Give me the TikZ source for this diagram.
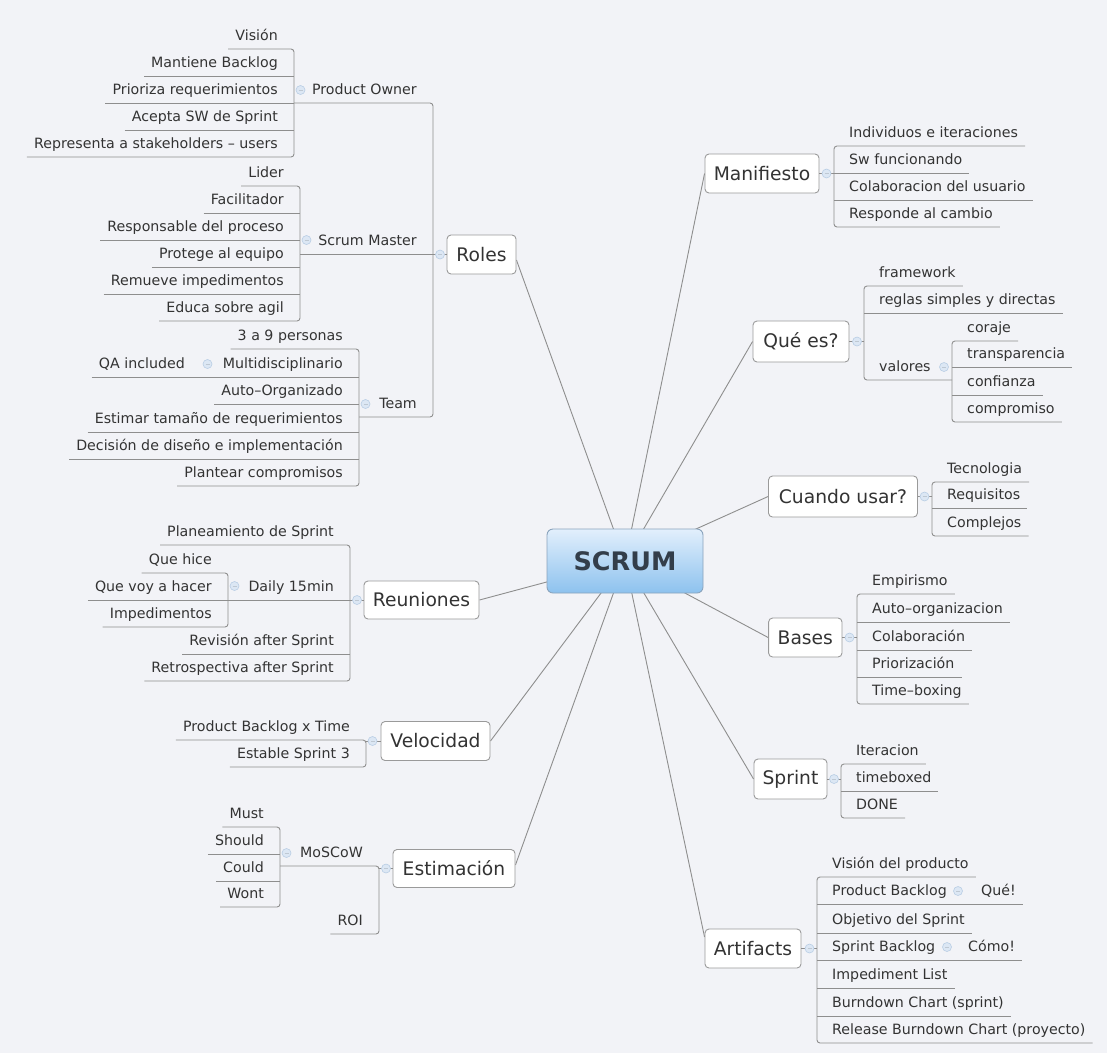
\documentclass[tikz,border=0pt]{standalone}
\usepackage{fontspec}
\setmainfont{DejaVu Sans}
\pgfdeclarelayer{bg}
\pgfsetlayers{bg,main}
\definecolor{bgc}{HTML}{F2F3F7}
\definecolor{lnc}{HTML}{8E8E8E}
\definecolor{txt}{HTML}{333333}
\definecolor{bord}{HTML}{9A9A9A}
\definecolor{circf}{HTML}{DCE7F4}
\definecolor{circd}{HTML}{B8CDE4}
\definecolor{scrtop}{HTML}{E2EFFC}
\definecolor{scrbot}{HTML}{8DC2EE}
\definecolor{scrtxt}{HTML}{333E4A}
\definecolor{scrbord}{HTML}{8AA3BC}
\tikzset{
  leaf/.style={inner xsep=7pt, inner ysep=1pt, font=\fontsize{14.2}{16}\selectfont, text=txt},
  ln/.style={draw=lnc, line width=0.9pt},
  topic/.style={draw=bord, fill=white, rounded corners=4pt, line width=0.9pt,
    font=\fontsize{18.7}{22}\selectfont, text=txt, inner sep=0pt},
  coll/.style={circle, minimum size=9pt, inner sep=0pt, fill=circf, draw=circd, line width=0.6pt,
    path picture={\draw[circd!80!black!60, line width=0.7pt]
      ([xshift=-2pt]path picture bounding box.center) -- ([xshift=2pt]path picture bounding box.center);}},
  rootbox/.style={draw=scrbord, rounded corners=6pt, top color=scrtop, bottom color=scrbot,
    line width=0.9pt, font=\bfseries\fontsize{25.5}{30}\selectfont, text=scrtxt,
    minimum width=156pt, minimum height=64pt, inner sep=0pt}
}
\newcommand\leafL[4]{\node[leaf,anchor=base east] (#1) at ({#2-9},{#3-8.5}) {#4};}
\newcommand\leafR[4]{\node[leaf,anchor=base west] (#1) at ({#2+8},{#3-8.5}) {#4};}
\newcommand\ulineL[3]{\draw[ln] (#1.west |- 0,#3) -- (#2,#3);}
\newcommand\ulineR[3]{\draw[ln] (#2,#3) -- (#1.east |- 0,#3);}
\newcommand\brackL[5]{\draw[ln,rounded corners=3pt] (#1.west |- 0,#4) -- (#3,#4) -- (#3,#5) -- (#2.west |- 0,#5);}
\newcommand\brackR[5]{\draw[ln,rounded corners=3pt] (#1.east |- 0,#4) -- (#3,#4) -- (#3,#5) -- (#2.east |- 0,#5);}
\begin{document}
\begin{tikzpicture}[x=1pt,y=-1pt]
\useasboundingbox (0,0) rectangle (1107,1053);

% ---------------- Roles ----------------
\leafL{po1}{294}{49}{Visión}
\leafL{po2}{294}{76}{Mantiene Backlog}
\leafL{po3}{294}{103}{Prioriza requerimientos}
\leafL{po4}{294}{130}{Acepta SW de Sprint}
\leafL{po5}{294}{157}{Representa a stakeholders – users}
\brackL{po1}{po5}{294}{49}{157}
\ulineL{po2}{294}{76}
\ulineL{po3}{294}{103}
\ulineL{po4}{294}{130}
\leafL{po}{433}{103}{Product Owner}
\node[coll] (kpo) at (300.5,90) {};

\leafL{sm1}{300}{186}{Lider}
\leafL{sm2}{300}{213}{Facilitador}
\leafL{sm3}{300}{240}{Responsable del proceso}
\leafL{sm4}{300}{267}{Protege al equipo}
\leafL{sm5}{300}{294}{Remueve impedimentos}
\leafL{sm6}{300}{321}{Educa sobre agil}
\brackL{sm1}{sm6}{300}{186}{321}
\ulineL{sm2}{300}{213}
\ulineL{sm3}{300}{240}
\ulineL{sm4}{300}{267}
\ulineL{sm5}{300}{294}
\leafL{sm}{433}{254}{Scrum Master}
\draw[ln] (300,254) -- (433,254);
\node[coll] (ksm) at (306.5,240) {};

\leafL{tm1}{359}{349}{3 a 9 personas}
\leafL{tm2}{359}{377}{Multidisciplinario}
\leafL{tm3}{359}{404}{Auto–Organizado}
\leafL{tm4}{359}{432}{Estimar tamaño de requerimientos}
\leafL{tm5}{359}{459}{Decisión de diseño e implementación}
\leafL{tm6}{359}{486}{Plantear compromisos}
\brackL{tm1}{tm6}{359}{349}{486}
\ulineL{tm2}{359}{377}
\ulineL{tm3}{359}{404}
\ulineL{tm4}{359}{432}
\ulineL{tm5}{359}{459}
\leafL{qa}{201}{377}{QA included}
\draw[ln] (qa.west |- 0,377) -- (tm2.west |- 0,377);
\node[coll] (kqa) at (207.5,364) {};
\leafL{team}{433}{417}{Team}
\node[coll] (ktm) at (365.5,404) {};

\draw[ln,rounded corners=3pt] (294,103) -- (433,103) -- (433,417) -- (359,417);
\node[topic, minimum width=69pt, minimum height=39pt] (roles) at (481.5,254.5) {Roles};
\draw[ln] (433,254.5) -- (roles.west);
\node[coll] (kro) at (440,254.5) {};

% ---------------- Reuniones ----------------
\leafL{re1}{350}{545}{Planeamiento de Sprint}
\leafL{re2}{350}{600}{Daily 15min}
\leafL{re3}{350}{654}{Revisión after Sprint}
\leafL{re4}{350}{681}{Retrospectiva after Sprint}
\brackL{re1}{re4}{350}{545}{681}
\ulineL{re3}{350}{654}
\draw[ln] (228,600) -- (350,600);
\leafL{dy1}{228}{573}{Que hice}
\leafL{dy2}{228}{600}{Que voy a hacer}
\leafL{dy3}{228}{627}{Impedimentos}
\brackL{dy1}{dy3}{228}{573}{627}
\ulineL{dy2}{228}{600}
\node[coll] (kdy) at (234.5,586) {};
\node[topic, minimum width=115pt, minimum height=38pt] (reun) at (421.5,600) {Reuniones};
\draw[ln] (350,600) -- (reun.west);
\node[coll] (kre) at (357,600) {};

% ---------------- Velocidad ----------------
\leafL{ve1}{366}{740}{Product Backlog x Time}
\leafL{ve2}{366}{767}{Estable Sprint 3}
\brackL{ve1}{ve2}{366}{740}{767}
\node[topic, minimum width=109pt, minimum height=39pt] (velo) at (435.5,741) {Velocidad};
\draw[ln] (366,741) -- (velo.west);
\node[coll] (kve) at (372.5,741) {};

% ---------------- Estimacion ----------------
\leafL{es1}{379}{866}{MoSCoW}
\leafL{es2}{379}{934}{ROI}
\draw[ln,rounded corners=3pt] (280,866) -- (379,866) -- (379,934) -- (es2.west |- 0,934);
\leafL{ms1}{280}{827}{Must}
\leafL{ms2}{280}{854}{Should}
\leafL{ms3}{280}{881}{Could}
\leafL{ms4}{280}{907}{Wont}
\brackL{ms1}{ms4}{280}{827}{907}
\ulineL{ms2}{280}{854}
\ulineL{ms3}{280}{881}
\node[coll] (kms) at (286.5,853) {};
\node[topic, minimum width=122pt, minimum height=38pt] (estim) at (454,868.5) {Estimación};
\draw[ln] (379,868.5) -- (estim.west);
\node[coll] (kes) at (386,868.5) {};

% ---------------- Manifiesto ----------------
\leafR{ma1}{834}{146}{Individuos e iteraciones}
\leafR{ma2}{834}{173}{Sw funcionando}
\leafR{ma3}{834}{200}{Colaboracion del usuario}
\leafR{ma4}{834}{227}{Responde al cambio}
\brackR{ma1}{ma4}{834}{146}{227}
\ulineR{ma2}{834}{173}
\ulineR{ma3}{834}{200}
\node[topic, minimum width=114pt, minimum height=39pt] (mani) at (762,173.5) {Manifiesto};
\draw[ln] (mani.east) -- (834,173.5);
\node[coll] (kma) at (826.5,173.5) {};

% ---------------- Que es ----------------
\leafR{qe1}{864}{286}{framework}
\leafR{qe2}{864}{313}{reglas simples y directas}
\leafR{qe3}{864}{380}{valores}
\draw[ln,rounded corners=3pt] (qe1.east |- 0,286) -- (864,286) -- (864,380) -- (952,380);
\ulineR{qe2}{864}{313}
\leafR{va1}{952}{341}{coraje}
\leafR{va2}{952}{367}{transparencia}
\leafR{va3}{952}{395}{confianza}
\leafR{va4}{952}{422}{compromiso}
\brackR{va1}{va4}{952}{341}{422}
\ulineR{va2}{952}{367}
\ulineR{va3}{952}{395}
\node[coll] (kva) at (944,367) {};
\node[topic, minimum width=96pt, minimum height=41pt] (quees) at (801,341.5) {Qué es?};
\draw[ln] (quees.east) -- (864,341.5);
\node[coll] (kqe) at (857,341.5) {};

% ---------------- Cuando usar ----------------
\leafR{cu1}{932}{482}{Tecnologia}
\leafR{cu2}{932}{508}{Requisitos}
\leafR{cu3}{932}{536}{Complejos}
\brackR{cu1}{cu3}{932}{482}{536}
\ulineR{cu2}{932}{508}
\node[topic, minimum width=149pt, minimum height=41pt] (cuando) at (843,496.5) {Cuando usar?};
\draw[ln] (cuando.east) -- (932,496.5);
\node[coll] (kcu) at (924.5,496.5) {};

% ---------------- Bases ----------------
\leafR{ba1}{857}{594}{Empirismo}
\leafR{ba2}{857}{622}{Auto–organizacion}
\leafR{ba3}{857}{650}{Colaboración}
\leafR{ba4}{857}{677}{Priorización}
\leafR{ba5}{857}{704}{Time–boxing}
\brackR{ba1}{ba5}{857}{594}{704}
\ulineR{ba2}{857}{622}
\ulineR{ba3}{857}{650}
\ulineR{ba4}{857}{677}
\node[topic, minimum width=73.4pt, minimum height=39pt] (bases) at (805.3,637.5) {Bases};
\draw[ln] (bases.east) -- (857,637.5);
\node[coll] (kba) at (849.5,637.5) {};

% ---------------- Sprint ----------------
\leafR{sp1}{841}{764}{Iteracion}
\leafR{sp2}{841}{791}{timeboxed}
\leafR{sp3}{841}{818}{DONE}
\brackR{sp1}{sp3}{841}{764}{818}
\ulineR{sp2}{841}{791}
\node[topic, minimum width=73pt, minimum height=40pt] (sprint) at (790.5,779) {Sprint};
\draw[ln] (sprint.east) -- (841,779);
\node[coll] (ksp) at (834,779) {};

% ---------------- Artifacts ----------------
\leafR{ar1}{817}{877}{Visión del producto}
\leafR{ar2}{817}{904}{Product Backlog}
\leafR{ar3}{817}{933}{Objetivo del Sprint}
\leafR{ar4}{817}{960}{Sprint Backlog}
\leafR{ar5}{817}{988}{Impediment List}
\leafR{ar6}{817}{1016}{Burndown Chart (sprint)}
\leafR{ar7}{817}{1043}{Release Burndown Chart (proyecto)}
\brackR{ar1}{ar7}{817}{877}{1043}
\leafR{qu}{966}{904}{Qué!}
\leafR{co}{953}{960}{Cómo!}
\draw[ln] (817,904) -- (qu.east |- 0,904);
\draw[ln] (817,960) -- (co.east |- 0,960);
\ulineR{ar3}{817}{933}
\ulineR{ar5}{817}{988}
\ulineR{ar6}{817}{1016}
\node[coll] (kpb) at (958,891) {};
\node[coll] (ksb) at (947,947) {};
\node[topic, minimum width=96pt, minimum height=39pt] (art) at (753,948.5) {Artifacts};
\draw[ln] (art.east) -- (817,948.5);
\node[coll] (kar) at (809.5,948.5) {};

% ---------------- Root ----------------
\node[rootbox] (scrum) at (625,561) {SCRUM};

\begin{pgfonlayer}{bg}
  \fill[bgc] (0,0) rectangle (1107,1053);
  \draw[ln] (scrum.center) -- ([yshift=-5.5pt]roles.east);
  \draw[ln] (scrum.center) -- (mani.west);
  \draw[ln] (scrum.center) -- (quees.west);
  \draw[ln] (scrum.center) -- (cuando.west);
  \draw[ln] (scrum.center) -- (bases.west);
  \draw[ln] (scrum.center) -- (sprint.west);
  \draw[ln] (scrum.center) -- ([yshift=11.5pt]art.west);
  \draw[ln] (scrum.center) -- ([yshift=3.5pt]estim.east);
  \draw[ln] (scrum.center) -- (velo.east);
  \draw[ln] (scrum.center) -- (reun.east);
\end{pgfonlayer}
\end{tikzpicture}
\end{document}
